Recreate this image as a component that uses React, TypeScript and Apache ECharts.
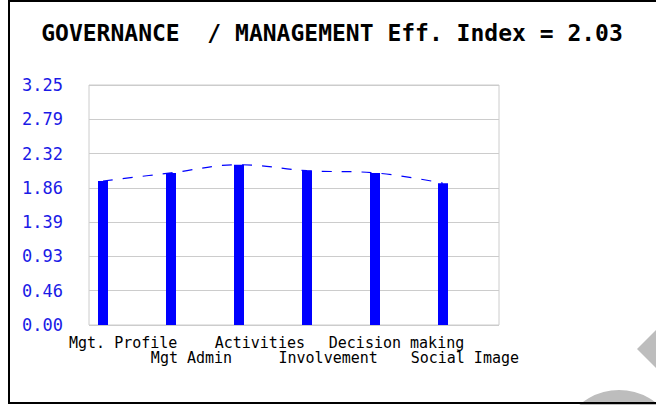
import React, { useEffect, useRef } from "react";
import * as echarts from "echarts";

const titleText = "GOVERNANCE  / MANAGEMENT Eff. Index = 2.03";
const categories = ["Mgt. Profile", "Mgt Admin", "Activities", "Involvement", "Decision making", "Social Image"];
const values = [1.95, 2.06, 2.17, 2.09, 2.06, 1.92];
const yMax = 3.25;
const yIntervals = 7;

export default function App() {
  const ref = useRef<HTMLDivElement>(null);
  useEffect(() => {
    if (!ref.current) return;
    const chart = echarts.init(ref.current, null, { renderer: "svg" });
    const pts = values.map((v, i) => [i, v]);
    chart.setOption({
      animation: false,
      backgroundColor: "#ffffff",
      grid: { left: 89, top: 85, width: 410, height: 240, show: true, borderColor: "#cccccc", borderWidth: 1, backgroundColor: "transparent" },
      xAxis: [
        {
          type: "category",
          data: categories,
          boundaryGap: true,
          axisLine: { show: false },
          axisTick: { show: false },
          splitLine: { show: false },
          axisLabel: {
            interval: 0,
            margin: 10,
            color: "#000",
            fontFamily: "DejaVu Sans Mono",
            fontSize: 15,
            lineHeight: 15,
            formatter: (v: string, i: number) => (i % 2 === 1 ? "\n" + v : v),
          },
        },
        {
          type: "value",
          min: -14 / 68,
          max: -14 / 68 + 410 / 68,
          show: false,
          splitLine: { show: false },
        },
      ],
      yAxis: {
        type: "value",
        min: 0,
        max: yMax,
        interval: yMax / yIntervals,
        axisLine: { show: false },
        axisTick: { show: false },
        splitLine: { show: true, lineStyle: { color: "#cccccc", width: 1 } },
        axisLabel: {
          margin: 26,
          color: "#1a1ae6",
          fontFamily: "DejaVu Sans Mono",
          fontSize: 17,
          formatter: (v: number) => v.toFixed(2),
        },
      },
      series: [
        {
          type: "bar",
          xAxisIndex: 1,
          data: pts,
          barWidth: 10,
          itemStyle: { color: "#0000ff" },
          z: 3,
        },
        {
          type: "line",
          xAxisIndex: 1,
          data: pts,
          smooth: 0.4,
          symbol: "none",
          lineStyle: { color: "#0000ff", width: 1.2, type: [10, 10] },
          z: 2,
        },
      ],
      graphic: [
        {
          type: "polygon",
          shape: { points: [[637, 349], [657, 329], [677, 349], [657, 369]] },
          style: { fill: "#bdbdbd" },
          z: 0,
        },
        {
          type: "circle",
          shape: { cx: 619, cy: 450, r: 60 },
          style: { fill: "#bdbdbd" },
          z: 0,
        },
        {
          type: "rect",
          shape: { x: 9, y: 1, width: 660, height: 402 },
          style: { fill: "none", stroke: "#000", lineWidth: 2 },
          z: 10,
        },
        {
          type: "text",
          x: 332,
          y: 33,
          style: {
            text: titleText,
            fill: "#000",
            font: "bold 23px 'DejaVu Sans Mono'",
            align: "center",
            verticalAlign: "middle",
          },
          z: 10,
        },
      ],
    });
    return () => chart.dispose();
  }, []);
  return <div ref={ref} style={{ position: "fixed", left: 0, top: 0, width: 656, height: 405 }} />;
}
